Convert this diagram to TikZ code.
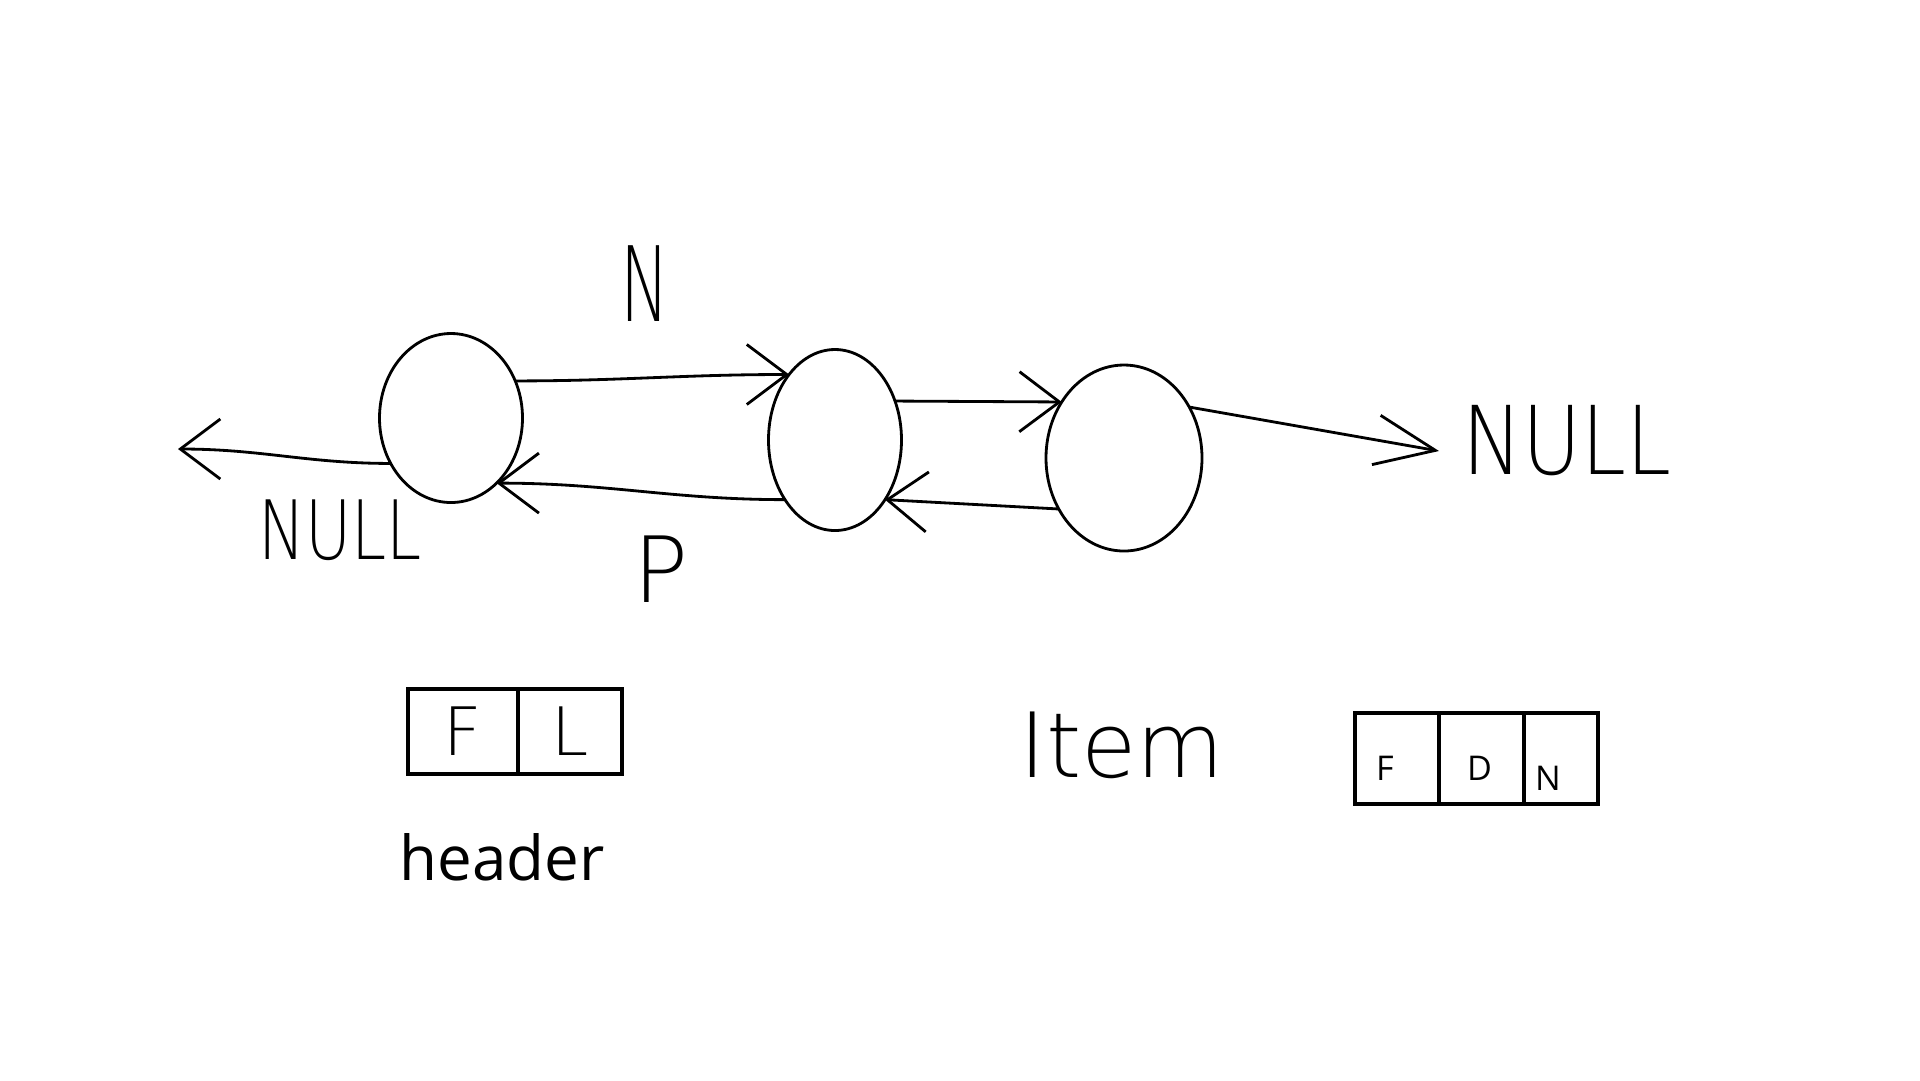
\documentclass[tikz,border=0pt]{standalone}
\usepackage{fontspec}
\setmainfont{Open Sans}
\newfontfamily\handfont{DejaVu Sans ExtraLight}
\usetikzlibrary{arrows.meta,positioning,shapes.geometric}

\begin{document}
\begin{tikzpicture}[x=0.1mm,y=-0.1mm,
  hand/.style={draw=black,line width=0.8pt,line cap=round,line join=round},
  harrow/.style={hand,-{Straight Barb[length=4mm,width=6mm]}},
  blob/.style={shape=ellipse,draw=black,line width=0.8pt,inner sep=0pt,outer sep=0pt},
  cell/.style={shape=rectangle,draw=black,line width=0.9pt,inner sep=0pt,outer sep=0pt},
  script/.style={inner sep=0pt}]
\useasboundingbox (0,0) rectangle (1920,1080);
% the three items
\node[blob,minimum width=14.3mm,minimum height=16.9mm] (A) at (451,418) {};
\node[blob,minimum width=13.3mm,minimum height=18.1mm] (B) at (835,440) {};
\node[blob,minimum width=15.6mm,minimum height=18.6mm] (C) at (1124,458) {};
\coordinate (LN) at (178,449);
\coordinate (RN) at (1439,451);
% next / prev pointers
\path (A.217) edge[harrow,out=180,in=0] (LN);
\path (A.30) edge[harrow,out=0,in=180] (B.125);
\path (B.230) edge[harrow,out=180,in=0] (A.-55);
\path (B.33) edge[harrow] (C.138);
\path (C.218) edge[harrow] (B.-50);
\path (C.38) edge[hand,-{Straight Barb[length=6mm,width=5mm]}] (RN);
% labels
\node[script,font=\handfont\fontsize{29.6}{30}\selectfont] (n) at (645,284) {\scalebox{0.63}[1]{N}};
\node[script,font=\handfont\fontsize{26}{27}\selectfont] (p) at (661,569) {P};
\node[script,font=\handfont\fontsize{23.3}{24}\selectfont] (lnull) at (340,530) {\scalebox{0.77}[1]{NULL}};
\node[script,font=\handfont\fontsize{27}{28}\selectfont] (rnull) at (1567,441) {\scalebox{0.85}[1]{NULL}};
% header
\node[cell,minimum width=11mm,minimum height=8.5mm,font=\handfont\fontsize{19}{20}\selectfont] (hF) at (463,731.5) {F};
\node[cell,minimum width=10.4mm,minimum height=8.5mm,font=\handfont\fontsize{19}{20}\selectfont,right=0pt of hF] (hL) {L};
\node[script,font=\fontsize{17.6}{20}\selectfont] (hdr) at (502,857) {header};
% item
\node[script,font=\handfont\fontsize{25.6}{27}\selectfont] (item) at (1122,745) {Item};
\node[cell,minimum width=8.4mm,minimum height=9.1mm] (iF) at (1397,758.5) {};
\node[cell,minimum width=8.5mm,minimum height=9.1mm,right=0pt of iF] (iD) {};
\node[cell,minimum width=7.4mm,minimum height=9.1mm,right=0pt of iD] (iN) {};
\node[script,font=\fontsize{9.7}{11}\selectfont] at ([shift={(-12,10)}]iF.center) {F};
\node[script,font=\fontsize{9.7}{11}\selectfont] at ([shift={(-2,10)}]iD.center) {D};
\node[script,font=\fontsize{9.7}{11}\selectfont] at ([shift={(-13,20)}]iN.center) {N};
\end{tikzpicture}
\end{document}
